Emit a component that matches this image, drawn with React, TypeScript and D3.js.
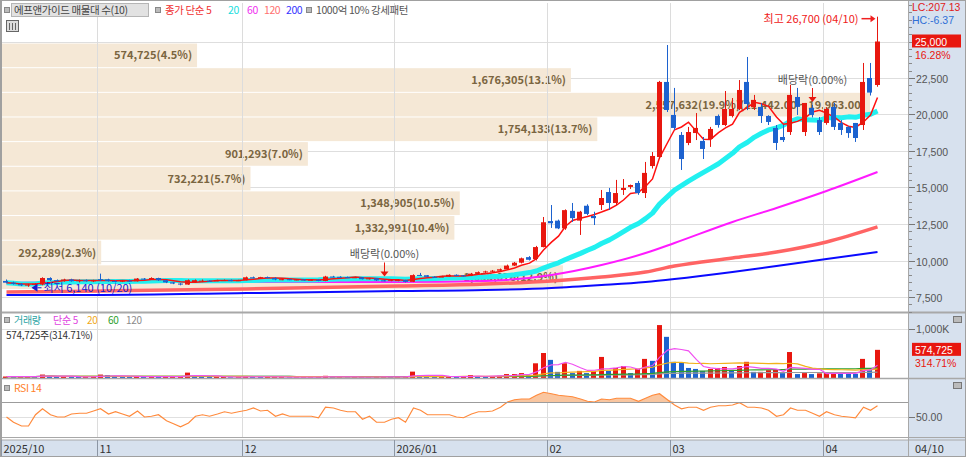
import { useEffect, useRef } from 'react';
import * as d3 from 'd3';

// trading days shown on the chart, per month
const monthDays: [string, number[]][] = [
  ['2025-10', [15, 16, 17, 20, 21, 22, 23, 24, 27, 28, 29, 30, 31]],
  ['2025-11', [3, 4, 5, 6, 7, 10, 11, 12, 13, 14, 17, 18, 19, 20, 21, 24, 25, 26, 27, 28]],
  ['2025-12', [1, 2, 3, 4, 5, 8, 9, 10, 11, 12, 15, 16, 17, 18, 19, 22, 23, 24, 26, 29, 30]],
  ['2026-01', [2, 5, 6, 7, 8, 9, 12, 13, 14, 15, 16, 19, 20, 21, 22, 23, 26, 27, 28, 29, 30]],
  ['2026-02', [2, 3, 4, 5, 6, 9, 10, 11, 12, 13, 19, 20, 23, 24, 25, 26, 27]],
  ['2026-03', [3, 4, 5, 6, 9, 10, 11, 12, 13, 16, 17, 18, 19, 20, 23, 24, 25, 26, 27, 30, 31]],
  ['2026-04', [1, 2, 3, 6, 7, 8, 9, 10]],
];
const monthLabels = ['2025/10', '11', '12', '2026/01', '02', '03', '04'];
const lastDateLabel = '04/10';

// open, high, low, close
const ohlc: [number, number, number, number][] = [
  [8600, 8700, 8450, 8480], [8480, 8550, 8350, 8400], [8400, 8450, 8250, 8300], [8300, 8400, 8200, 8350],
  [8350, 8450, 8300, 8400], [8350, 8850, 8300, 8800], [8800, 8850, 8600, 8650], [8650, 8700, 8550, 8600],
  [8600, 8750, 8550, 8700], [8700, 8750, 8550, 8580], [8580, 8700, 8500, 8650], [8650, 8700, 8550, 8600],
  [8600, 8680, 8520, 8640],
  [8720, 9100, 8600, 8700], [8700, 8750, 8550, 8600], [8600, 8650, 8500, 8560], [8560, 8650, 8520, 8620],
  [8620, 8680, 8550, 8580], [8580, 8800, 8560, 8760], [8760, 8800, 8650, 8700], [8700, 8850, 8680, 8800],
  [8800, 8820, 8600, 8650], [8650, 8680, 8450, 8500], [8500, 8520, 8380, 8420], [8420, 8450, 8300, 8350],
  [8350, 8700, 8330, 8650], [8500, 8700, 8480, 8650], [8550, 8700, 8520, 8620], [8620, 8650, 8550, 8600],
  [8600, 8680, 8580, 8640], [8640, 8700, 8600, 8660], [8660, 8700, 8580, 8620], [8620, 8680, 8600, 8650],
  [8650, 8900, 8640, 8850], [8850, 8900, 8780, 8820], [8820, 8880, 8780, 8860], [8860, 8900, 8780, 8800],
  [8800, 8850, 8650, 8700], [8700, 8760, 8650, 8720], [8720, 8750, 8650, 8680], [8680, 8720, 8640, 8700],
  [8700, 8720, 8620, 8650], [8650, 8700, 8620, 8680], [8680, 8700, 8580, 8600], [8600, 8950, 8580, 8900],
  [8900, 8950, 8850, 8880], [8880, 8920, 8820, 8860], [8860, 8900, 8800, 8820], [8820, 8880, 8800, 8850],
  [8850, 8870, 8700, 8720], [8720, 8800, 8700, 8780], [8780, 8800, 8600, 8640], [8640, 8700, 8580, 8620],
  [8620, 8700, 8580, 8680],
  [8600, 8700, 8580, 8660], [8660, 8680, 8500, 8540], [8540, 9050, 8520, 9000], [9010, 9150, 8950, 8990],
  [8990, 9000, 8850, 8880], [8880, 8920, 8850, 8870], [8870, 8950, 8850, 8900], [8900, 9050, 8880, 9020],
  [9020, 9050, 8950, 8980], [8980, 9000, 8900, 8950], [8950, 9150, 8930, 9100], [9100, 9250, 9080, 9200],
  [9200, 9300, 9150, 9250], [9250, 9350, 9200, 9300], [9300, 9450, 9280, 9400], [9400, 9720, 9380, 9650],
  [9650, 9900, 9620, 9850], [9850, 10200, 9800, 10150], [10230, 10300, 10000, 10050], [10100, 11000, 10000, 10920],
  [10920, 12980, 10900, 12620],
  [12700, 13800, 12230, 12550], [12730, 12800, 12150, 12200], [12200, 13500, 12100, 13450], [13400, 13940, 12640, 12900],
  [12730, 13400, 11750, 13340], [13750, 13850, 13100, 13190], [13050, 13340, 12430, 12900], [13800, 14830, 13460, 14280],
  [14690, 14970, 13460, 13940], [13940, 15520, 13800, 14620], [14830, 15580, 14490, 14970], [15040, 15200, 14900, 15170],
  [15310, 15450, 14500, 14620], [14620, 16750, 14280, 16000], [16470, 17430, 16300, 17160], [17090, 22300, 17000, 22230],
  [22230, 24760, 20170, 20310],
  [19970, 21820, 18940, 19080], [18600, 18800, 16200, 16950], [18050, 19150, 17900, 18800], [18730, 20100, 18250, 19080],
  [18190, 18460, 16950, 17640], [18320, 19150, 17780, 19010], [19900, 20000, 19100, 19280], [19280, 21610, 19200, 20380],
  [19900, 21130, 19800, 20380], [20380, 22360, 20300, 21680], [22230, 23940, 20300, 20720], [20500, 21340, 20310, 21000],
  [20520, 20790, 19420, 19900], [19900, 19950, 19280, 19490], [19080, 19280, 17570, 18050], [18460, 19280, 18120, 18250],
  [18800, 22020, 18600, 21340], [21200, 21820, 19970, 20520], [18800, 20790, 18530, 20790], [20450, 20650, 19800, 19970],
  [19620, 19830, 18600, 18800],
  [19420, 20500, 19300, 20380], [20520, 20790, 18940, 19150], [19420, 19620, 18600, 18940], [19150, 19200, 18400, 18730],
  [19420, 19420, 18120, 18390], [19280, 23530, 18940, 22230], [22500, 23530, 21300, 21500], [22020, 26700, 21900, 25000],
];

const volumes = [
  30000, 25000, 30000, 35000, 25000, 70000, 40000, 25000, 30000, 25000, 20000, 25000, 30000,
  70000, 60000, 30000, 25000, 20000, 35000, 25000, 30000, 25000, 25000, 30000, 30000, 110000, 40000, 30000, 20000, 20000, 20000, 15000, 20000,
  40000, 25000, 20000, 20000, 20000, 20000, 15000, 15000, 15000, 15000, 20000, 45000, 20000, 20000, 15000, 20000, 20000, 20000, 25000, 25000, 20000,
  25000, 25000, 130000, 50000, 30000, 25000, 25000, 35000, 25000, 25000, 60000, 40000, 30000, 35000, 45000, 80000, 80000, 100000, 60000, 300000, 510000,
  370000, 125000, 300000, 100000, 145000, 100000, 145000, 430000, 145000, 205000, 245000, 100000, 185000, 390000, 350000, 1080000, 840000,
  330000, 310000, 205000, 185000, 145000, 185000, 205000, 225000, 165000, 245000, 330000, 125000, 125000, 160000, 170000, 100000, 530000, 80000, 100000, 80000, 95000,
  100000, 100000, 95000, 90000, 85000, 390000, 165000, 574725,
];

const rsi14 = [
  50, 43, 38, 38, 53, 61, 53, 50, 50, 54, 55, 55, 58,
  61, 54, 57, 54, 51, 58, 50, 51, 53, 45, 41, 37, 42, 51, 53, 51, 54, 57, 55, 57,
  59, 62, 58, 59, 51, 54, 51, 51, 51, 51, 49, 63, 62, 59, 57, 57, 47, 51, 43, 43, 47,
  49, 43, 62, 59, 53, 53, 53, 53, 50, 49, 54, 57, 57, 58, 63, 70, 73, 74, 74, 79, 83,
  81, 79, 78, 77, 74, 71, 70, 74, 73, 75, 75, 75, 71, 75, 79, 81, 73,
  66, 61, 63, 63, 59, 63, 65, 65, 66, 69, 63, 63, 62, 59, 51, 53, 62, 59, 59, 55, 51,
  57, 53, 51, 50, 49, 63, 59, 65,
];

// long moving averages at these dates
const maAnchorDates = [
  '2025-10-15', '2025-11-03', '2025-12-01', '2026-01-02', '2026-01-20', '2026-02-02', '2026-02-11',
  '2026-02-24', '2026-03-03', '2026-03-13', '2026-03-23', '2026-04-01', '2026-04-10',
];
const ma60 = [8460, 8530, 8530, 8530, 8600, 9010, 9690, 10510, 11200, 12640, 13600, 14760, 16060];
const ma120 = [7840, 7910, 8050, 8250, 8390, 8600, 8870, 9210, 9620, 10170, 10580, 11270, 12300];
const ma200 = [7640, 7640, 7770, 7910, 7980, 8120, 8320, 8530, 8730, 9210, 9620, 10100, 10580];

// volume profile (매물대), top band first
const profileVolumes = [574725, 1676305, 2557632, 1754133, 901293, 732221, 1348905, 1332991, 292289, 1653076];
const profileShares = [4.5, 13.1, 19.9, 13.7, 7.0, 5.7, 10.5, 10.4, 2.3, 12.9];
const profileRange = [8050, 24860];
const peakRange = ['21,442.00', '19,963.00'];

const priceTicks = [7500, 10000, 12500, 15000, 17500, 20000, 22500, 25000];
const exDivDates = ['2025-12-29', '2026-03-30'];
const highDate = '2026-04-10';
const highPrice = 26700;
const lowDate = '2025-10-20';
const lowPrice = 6140;
const changePct = 16.28;
const volRatio = 314.71;
const lcValue = 207.13;
const hcValue = -6.37;

const FONT = "'Noto Sans CJK KR', 'Noto Sans', sans-serif";
const NUM_FONT = "'Liberation Sans', Arial, sans-serif";
const RED = '#e8170f';
const BLUE = '#1c62cf';
const AXIS_BG = '#d7e1ee';
const PLOT_R = 908;

const App = () => {
  const ref = useRef<SVGSVGElement>(null);

  useEffect(() => {
    if (!ref.current) return;
    const svg = d3.select(ref.current);
    svg.selectAll('*').remove();
    svg.attr('font-family', FONT).attr('font-size', 11);

    const dates = monthDays.flatMap(([m, ds]) => ds.map((d) => `${m}-${String(d).padStart(2, '0')}`));
    const pad = 0.28;
    const x = d3
      .scaleBand<string>()
      .domain(dates)
      .range([2.4, 2.4 + dates.length * 7.26])
      .paddingInner(pad)
      .paddingOuter(pad / 2);
    const cx = (d: string) => Math.round((x(d) ?? 0) + x.bandwidth() / 2) + 0.5;
    const slot = (d: string) => Math.round((x(d) ?? 0) - (x.step() * pad) / 2) + 0.5;

    const y = d3.scaleLinear().domain([7500, 25000]).range([297, 41.5]);
    const vy = d3.scaleLinear().domain([0, 1000000]).range([378, 329]);
    const ry = d3.scaleLinear().domain([50, 70]).range([417, 402]);
    const fmt = d3.format(',');

    // backgrounds
    svg.append('rect').attr('width', 966).attr('height', 457).attr('fill', '#fff');
    svg.append('rect').attr('x', PLOT_R).attr('width', 966 - PLOT_R).attr('height', 457).attr('fill', AXIS_BG);
    svg.append('rect').attr('y', 440).attr('width', 966).attr('height', 17).attr('fill', AXIS_BG);

    const defs = svg.append('defs');
    defs.append('clipPath').attr('id', 'price-clip').append('rect').attr('x', 2).attr('y', 3).attr('width', PLOT_R - 2).attr('height', 309);
    defs.append('clipPath').attr('id', 'vol-clip').append('rect').attr('x', 2).attr('y', 314).attr('width', PLOT_R - 2).attr('height', 64);
    defs.append('clipPath').attr('id', 'rsi-clip').append('rect').attr('x', 2).attr('y', 380).attr('width', PLOT_R - 2).attr('height', 57);

    // horizontal price grid
    svg
      .append('g')
      .selectAll('line')
      .data(priceTicks)
      .join('line')
      .attr('x1', 2)
      .attr('x2', PLOT_R)
      .attr('y1', (d) => Math.round(y(d)) + 0.5)
      .attr('y2', (d) => Math.round(y(d)) + 0.5)
      .attr('stroke', '#dedede');

    // volume profile bands
    const bandY = d3
      .scaleBand<number>()
      .domain(d3.range(profileVolumes.length))
      .range([y(profileRange[1]), y(profileRange[0])])
      .paddingInner(0.04);
    const bandW = d3.scaleLinear().domain([0, d3.max(profileVolumes) as number]).range([0, 868]);
    const peak = d3.maxIndex(profileVolumes);
    const prof = svg.append('g');
    prof
      .selectAll('rect')
      .data(profileVolumes)
      .join('rect')
      .attr('x', 2)
      .attr('y', (_, i) => bandY(i) as number)
      .attr('width', (d) => bandW(d))
      .attr('height', bandY.bandwidth())
      .attr('fill', '#f5e8d6');
    prof
      .selectAll('text')
      .data(profileVolumes)
      .join('text')
      .attr('x', (d) => 2 + bandW(d) - 5)
      .attr('y', (_, i) => (bandY(i) as number) + bandY.bandwidth() / 2 + 4)
      .attr('text-anchor', 'end')
      .attr('fill', '#7a6540')
      .attr('font-weight', 600)
      .text(
        (d, i) =>
          `${fmt(d)}(${profileShares[i].toFixed(1)}%)` + (i === peak ? `(${peakRange[0]} ~ ${peakRange[1]})` : ''),
      );

    // vertical month grid across all panes
    const monthStarts = monthDays.map(([m, ds]) => `${m}-${String(ds[0]).padStart(2, '0')}`);
    svg
      .append('g')
      .selectAll('line')
      .data(monthStarts.slice(1))
      .join('line')
      .attr('x1', (d) => slot(d))
      .attr('x2', (d) => slot(d))
      .attr('y1', 3)
      .attr('y2', 438)
      .attr('stroke', '#dcdcdc');

    // moving averages
    const closes = ohlc.map((d) => d[3]);
    const sma = (arr: number[], n: number) =>
      arr.map((_, i) => d3.mean(arr.slice(Math.max(0, i - n + 1), i + 1)) as number);
    const priceG = svg.append('g').attr('clip-path', 'url(#price-clip)');
    const anchorLine = d3
      .line<number>()
      .x((_, i) => cx(maAnchorDates[i]))
      .y((v) => y(v))
      .curve(d3.curveMonotoneX);
    const dailyLine = d3
      .line<number>()
      .x((_, i) => cx(dates[i]))
      .y((v) => y(v));
    priceG.append('path').attr('d', anchorLine(ma200)).attr('fill', 'none').attr('stroke', '#0a0aff').attr('stroke-width', 2);
    priceG.append('path').attr('d', anchorLine(ma120)).attr('fill', 'none').attr('stroke', '#ff6464').attr('stroke-width', 3.5);
    priceG.append('path').attr('d', anchorLine(ma60)).attr('fill', 'none').attr('stroke', '#ff1aff').attr('stroke-width', 2);
    priceG
      .append('path')
      .attr('d', dailyLine(sma(closes, 20)))
      .attr('fill', 'none')
      .attr('stroke', '#22f0f0')
      .attr('stroke-width', 5)
      .attr('stroke-linejoin', 'round');
    priceG.append('path').attr('d', dailyLine(sma(closes, 5))).attr('fill', 'none').attr('stroke', '#ff1010').attr('stroke-width', 1.5);

    // candles
    const candle = priceG
      .append('g')
      .selectAll('g')
      .data(ohlc)
      .join('g')
      .attr('fill', (d) => (d[3] >= d[0] ? RED : BLUE))
      .attr('stroke', (d) => (d[3] >= d[0] ? RED : BLUE));
    candle
      .append('line')
      .attr('x1', (_, i) => cx(dates[i]))
      .attr('x2', (_, i) => cx(dates[i]))
      .attr('y1', (d) => y(d[1]))
      .attr('y2', (d) => y(d[2]));
    candle
      .append('rect')
      .attr('stroke', 'none')
      .attr('x', (_, i) => Math.round(x(dates[i]) as number))
      .attr('width', Math.round(x.bandwidth()))
      .attr('y', (d) => y(Math.max(d[0], d[3])))
      .attr('height', (d) => Math.max(1, y(Math.min(d[0], d[3])) - y(Math.max(d[0], d[3]))));

    // annotations: ex-dividend, high, low
    const iOf = (d: string) => dates.indexOf(d);
    exDivDates.forEach((d) => {
      const hy = y(ohlc[iOf(d)][1]);
      const ax = cx(d);
      svg.append('text').attr('x', ax).attr('y', hy - 21).attr('text-anchor', 'middle').attr('fill', '#555').text('배당락(0.00%)');
      svg.append('line').attr('x1', ax).attr('x2', ax).attr('y1', hy - 17).attr('y2', hy - 6).attr('stroke', RED);
      svg.append('path').attr('d', `M${ax - 4},${hy - 8}L${ax + 4},${hy - 8}L${ax},${hy - 3}Z`).attr('fill', RED);
    });
    const hx = cx(highDate);
    const hy = y(highPrice) + 2;
    svg
      .append('text')
      .attr('x', hx - 19)
      .attr('y', hy + 4)
      .attr('text-anchor', 'end')
      .attr('fill', '#f02020')
      .text(`최고 ${fmt(highPrice)} (04/10)`);
    svg.append('line').attr('x1', hx - 16).attr('x2', hx - 6).attr('y1', hy).attr('y2', hy).attr('stroke', '#f02020').attr('stroke-width', 1.5);
    svg.append('path').attr('d', `M${hx - 7},${hy - 3.5}L${hx - 2},${hy}L${hx - 7},${hy + 3.5}Z`).attr('fill', '#f02020');
    const lx = cx(lowDate);
    const ly = y(ohlc[iOf(lowDate)][2]) + 1;
    svg.append('path').attr('d', `M${lx + 3},${ly}L${lx + 9},${ly - 4}L${lx + 9},${ly + 4}Z`).attr('fill', '#1a1ad0');
    svg.append('line').attr('x1', lx + 9).attr('x2', lx + 13).attr('y1', ly).attr('y2', ly).attr('stroke', '#1a1ad0');
    svg.append('text').attr('x', lx + 15).attr('y', ly + 4).attr('fill', '#1a1ad0').text(`최저 ${fmt(lowPrice)} (10/20)`);

    // volume pane
    svg.append('line').attr('x1', 2).attr('x2', PLOT_R).attr('y1', 329.5).attr('y2', 329.5).attr('stroke', '#e0e0e0');
    const volG = svg.append('g').attr('clip-path', 'url(#vol-clip)');
    volG
      .selectAll('rect')
      .data(volumes)
      .join('rect')
      .attr('x', (_, i) => Math.round(x(dates[i]) as number))
      .attr('width', Math.round(x.bandwidth()))
      .attr('y', (d) => vy(d))
      .attr('height', (d) => Math.max(1, vy(0) - vy(d)))
      .attr('fill', (d, i) => (i === 0 || d >= volumes[i - 1] ? RED : BLUE));
    const volLine = d3
      .line<number>()
      .x((_, i) => cx(dates[i]))
      .y((v) => vy(v));
    const volMas: [number, string][] = [
      [120, '#9a9a9a'],
      [60, '#2ea02e'],
      [20, '#f2b21c'],
      [5, '#f050f0'],
    ];
    volMas.forEach(([n, c]) => {
      volG.append('path').attr('d', volLine(sma(volumes, n))).attr('fill', 'none').attr('stroke', c).attr('stroke-width', 1.2);
    });

    // RSI pane
    svg.append('line').attr('x1', 2).attr('x2', PLOT_R).attr('y1', ry(50) + 0.5).attr('y2', ry(50) + 0.5).attr('stroke', '#e0e0e0');
    const rsiG = svg.append('g').attr('clip-path', 'url(#rsi-clip)');
    const rsiArea = d3
      .area<number>()
      .x((_, i) => cx(dates[i]))
      .y0(ry(70))
      .y1((v) => ry(Math.max(70, v)));
    rsiG.append('path').attr('d', rsiArea(rsi14)).attr('fill', '#f9c6a0');
    svg.append('line').attr('x1', 2).attr('x2', PLOT_R).attr('y1', ry(70) + 0.5).attr('y2', ry(70) + 0.5).attr('stroke', '#9c9c9c');
    rsiG
      .append('path')
      .attr('d', d3.line<number>().x((_, i) => cx(dates[i])).y((v) => ry(v))(rsi14))
      .attr('fill', 'none')
      .attr('stroke', '#ff8a3c')
      .attr('stroke-width', 1.2);

    // pane separators
    const sep = svg.append('g').attr('stroke', '#a8a8a8');
    sep.append('line').attr('x1', 0).attr('x2', 966).attr('y1', 312.5).attr('y2', 312.5).attr('stroke-width', 2);
    sep.append('line').attr('x1', 0).attr('x2', 966).attr('y1', 378.5).attr('y2', 378.5).attr('stroke-width', 1.5);
    sep.append('line').attr('x1', 0).attr('x2', 966).attr('y1', 437.5).attr('y2', 437.5);
    sep.append('line').attr('x1', 0).attr('x2', 966).attr('y1', 440).attr('y2', 440);
    sep.append('line').attr('x1', PLOT_R + 0.5).attr('x2', PLOT_R + 0.5).attr('y1', 0).attr('y2', 457);

    // bottom date axis
    const dAxis = svg.append('g');
    monthStarts.forEach((d, i) => {
      const sx = i === 0 ? 1.5 : slot(d);
      dAxis.append('line').attr('x1', sx).attr('x2', sx).attr('y1', 440).attr('y2', 457).attr('stroke', '#8c96a4');
      dAxis.append('text').attr('x', sx + 2).attr('y', 453).attr('fill', '#333').text(monthLabels[i]);
    });
    dAxis.append('text').attr('x', 915).attr('y', 453).attr('fill', '#333').text(lastDateLabel);

    // right price axis
    const ax = svg.append('g').attr('font-size', 10.5).attr('font-family', NUM_FONT);
    const minor = d3.range(6500, 27600, 500);
    ax.selectAll('line.mn')
      .data(minor)
      .join('line')
      .attr('x1', PLOT_R + 1)
      .attr('x2', PLOT_R + 4)
      .attr('y1', (d) => Math.round(y(d)) + 0.5)
      .attr('y2', (d) => Math.round(y(d)) + 0.5)
      .attr('stroke', '#8a8a8a');
    priceTicks
      .filter((t) => t < 25000)
      .forEach((t) => {
        const ty = Math.round(y(t)) + 0.5;
        ax.append('line').attr('x1', PLOT_R + 1).attr('x2', PLOT_R + 7).attr('y1', ty).attr('y2', ty).attr('stroke', '#777');
        ax.append('text').attr('x', PLOT_R + 8).attr('y', ty + 4).attr('fill', '#555').text(fmt(t));
      });
    const last = ohlc[ohlc.length - 1][3];
    ax.append('rect').attr('x', 912).attr('y', y(last) - 7).attr('width', 49).attr('height', 13).attr('fill', RED);
    ax.append('text').attr('x', 915).attr('y', y(last) + 4).attr('fill', '#fff').text(fmt(last));
    ax.append('text').attr('x', 915).attr('y', y(last) + 17).attr('fill', RED).text(`${changePct.toFixed(2)}%`);
    ax.append('text').attr('x', 912).attr('y', 11).attr('fill', '#e02020').text(`LC:${lcValue.toFixed(2)}`);
    ax.append('text').attr('x', 912).attr('y', 23.5).attr('fill', '#2f6fd6').text(`HC:${hcValue.toFixed(2)}`);

    // volume axis
    ax.append('line').attr('x1', PLOT_R + 1).attr('x2', PLOT_R + 7).attr('y1', 329.5).attr('y2', 329.5).attr('stroke', '#777');
    ax.append('text').attr('x', PLOT_R + 8).attr('y', 333).attr('fill', '#555').text('1,000K');
    const lastVol = volumes[volumes.length - 1];
    ax.append('rect').attr('x', 912).attr('y', vy(lastVol) - 7).attr('width', 49).attr('height', 13).attr('fill', RED);
    ax.append('text').attr('x', 915).attr('y', vy(lastVol) + 4).attr('fill', '#fff').text(fmt(lastVol));
    ax.append('text').attr('x', 915).attr('y', vy(lastVol) + 17).attr('fill', RED).text(`${volRatio.toFixed(2)}%`);

    // RSI axis
    ax.append('line').attr('x1', PLOT_R + 1).attr('x2', PLOT_R + 7).attr('y1', ry(50) + 0.5).attr('y2', ry(50) + 0.5).attr('stroke', '#777');
    ax.append('text').attr('x', PLOT_R + 8).attr('y', ry(50) + 4).attr('fill', '#555').text('50.00');
    [316, 382].forEach((iy) => {
      ax.append('rect').attr('x', 953.5).attr('y', iy + 0.5).attr('width', 8).attr('height', 6).attr('fill', '#bbb').attr('stroke', '#777');
    });

    // legends
    const lg = svg.append('g').attr('font-size', 10.5);
    const sq = (sx: number, sy: number) =>
      lg.append('rect').attr('x', sx + 0.5).attr('y', sy + 0.5).attr('width', 5).attr('height', 5).attr('fill', '#bbb').attr('stroke', '#888');
    const tx = (sx: number, sy: number, s: string, c: string) =>
      lg.append('text').attr('x', sx).attr('y', sy).attr('fill', c).attr('letter-spacing', -0.4).text(s);
    sq(4, 7);
    lg.append('rect').attr('x', 11.5).attr('y', 3.5).attr('width', 137).attr('height', 13).attr('fill', '#e2e2e2').attr('stroke', '#b5b5b5');
    tx(14, 14, '에프앤가이드 매물대 수(10)', '#444');
    sq(155, 7);
    tx(165, 14, '종가 단순 5', '#f03030');
    tx(228, 14, '20', '#18dede');
    tx(247, 14, '60', '#f030f0');
    tx(264, 14, '120', '#ff7070');
    tx(286, 14, '200', '#3535ff');
    sq(306, 7);
    tx(316, 14, '1000억 10% 강세패턴', '#555');
    lg.append('rect').attr('x', 6.5).attr('y', 20.5).attr('width', 12).attr('height', 11).attr('fill', '#ddd').attr('stroke', '#666');
    [9.5, 12.5, 15.5].forEach((gx) => lg.append('line').attr('x1', gx).attr('x2', gx).attr('y1', 23).attr('y2', 30).attr('stroke', '#666'));

    const vl = lg.append('g').attr('font-size', 10);
    const vtx = (sx: number, sy: number, s: string, c: string) =>
      vl.append('text').attr('x', sx).attr('y', sy).attr('fill', c).attr('letter-spacing', -0.3).text(s);
    sq(4, 317);
    vtx(14, 324, '거래량', '#2aa3a3');
    vtx(53, 324, '단순 5', '#e040e0');
    vtx(87, 324, '20', '#f0a818');
    vtx(108, 324, '60', '#2ea02e');
    vtx(126, 324, '120', '#8a8a8a');
    vtx(6, 339, `${fmt(lastVol)}주(${volRatio.toFixed(2)}%)`, '#333');
    sq(4, 385);
    tx(14, 392, 'RSI 14', '#ff7f2a');

    // frame
    svg.append('rect').attr('x', 0.5).attr('y', 0.5).attr('width', 965).attr('height', 456).attr('fill', 'none').attr('stroke', '#a0a0a0');
    svg.append('line').attr('x1', 1.5).attr('x2', 1.5).attr('y1', 0).attr('y2', 440).attr('stroke', '#a0a0a0');
  }, []);

  return <svg ref={ref} width={966} height={457} style={{ position: 'absolute', left: 0, top: 0, display: 'block' }} />;
};

export default App;
